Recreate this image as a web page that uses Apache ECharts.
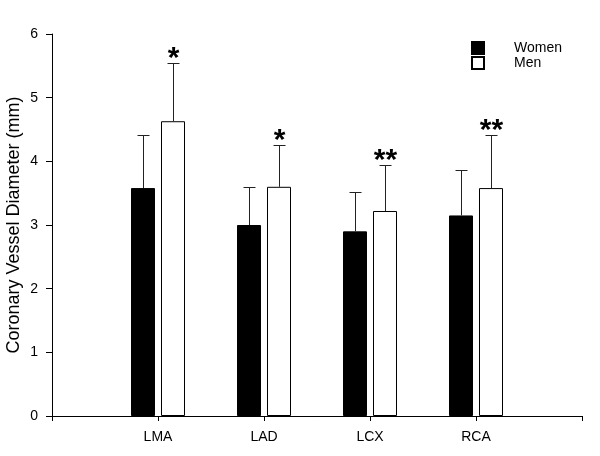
<!DOCTYPE html>
<html>
<head>
<meta charset="utf-8">
<script src="https://cdn.jsdelivr.net/npm/echarts@6/dist/echarts.min.js"></script>
<style>html,body{margin:0;padding:0;background:#fff}#c{width:600px;height:456px}</style>
</head>
<body>
<div id="c"></div>
<script>
const categories = ['LMA', 'LAD', 'LCX', 'RCA'];
const womenMean = [3.58, 3.00, 2.90, 3.15];
const womenSD = [0.83, 0.60, 0.62, 0.71];
const menMean = [4.63, 3.60, 3.22, 3.58];
const menSD = [0.92, 0.66, 0.72, 0.83];
const menMarks = ['*', '*', '**', '**'];
const yTicks = [0, 1, 2, 3, 4, 5, 6];

const FONT = '"Liberation Sans", Arial, sans-serif';
const axisCats = [''].concat(categories, ['']);
const pad = arr => ['-'].concat(arr, ['-']);

function errData(mean, sd, marks) {
  return mean.map((m, i) => [i + 1, m, m + sd[i], marks ? marks[i] : '']);
}

function makeRender(offset) {
  return function (params, api) {
    const x = api.value(0);
    const top = api.coord([x, api.value(1)]);
    const up = api.coord([x, api.value(2)]);
    const cx = Math.round(top[0] + offset) + 0.5;
    const uy = Math.round(up[1]) + 0.5;
    const cap = 6;
    const children = [
      { type: 'line', shape: { x1: cx, y1: top[1], x2: cx, y2: uy }, style: { stroke: '#222', lineWidth: 1 } },
      { type: 'line', shape: { x1: cx - cap, y1: uy, x2: cx + cap, y2: uy }, style: { stroke: '#222', lineWidth: 1 } }
    ];
    const mark = api.value(3);
    if (mark) {
      children.push({
        type: 'text',
        style: { text: mark, x: cx, y: up[1] + 11, align: 'center', verticalAlign: 'bottom', font: 'bold 30px ' + FONT, fill: '#000' }
      });
    }
    return { type: 'group', children: children };
  };
}

const chart = echarts.init(document.getElementById('c'), null, { renderer: 'canvas' });
chart.setOption({
  animation: false,
  backgroundColor: '#fff',
  grid: { left: 52, right: 18, top: 34, bottom: 40, containLabel: false, outerBoundsMode: 'none' },
  legend: {
    orient: 'vertical', left: 466, top: 36, icon: 'rect',
    itemWidth: 12, itemHeight: 12, itemGap: 1,
    textStyle: { fontFamily: FONT, fontSize: 14, lineHeight: 14, color: '#000', padding: [0, 0, 0, 25] },
    data: ['Women', 'Men']
  },
  xAxis: {
    type: 'category', data: axisCats, boundaryGap: false,
    axisLine: { lineStyle: { color: '#000', width: 1 } },
    axisTick: { show: true, length: 5, lineStyle: { color: '#000' } },
    axisLabel: { fontFamily: FONT, fontSize: 14, color: '#000', margin: 14, interval: 0 },
    splitLine: { show: false }
  },
  yAxis: {
    type: 'value', min: 0, max: 6, interval: 1,
    name: 'Coronary Vessel Diameter (mm)', nameLocation: 'middle', nameGap: 29, nameMoveOverlap: false,
    nameTextStyle: { fontFamily: FONT, fontSize: 18, color: '#000' },
    axisLine: { show: true, lineStyle: { color: '#000', width: 1 } },
    axisTick: { show: true, length: 6, lineStyle: { color: '#000' } },
    axisLabel: { fontFamily: FONT, fontSize: 14, color: '#000', margin: 14,
      formatter: v => yTicks.indexOf(v) >= 0 ? String(v) : '' },
    splitLine: { show: false }
  },
  series: [
    { name: 'Women', type: 'bar', data: pad(womenMean), barWidth: 24, barGap: '25%',
      itemStyle: { color: '#000', borderColor: '#000', borderWidth: 1 } },
    { name: 'Men', type: 'bar', data: pad(menMean), barWidth: 24, barGap: '25%',
      itemStyle: { color: '#fff', borderColor: '#000', borderWidth: 1 } },
    { name: 'womenErr', type: 'custom', renderItem: makeRender(-15), data: errData(womenMean, womenSD), z: 3 },
    { name: 'menErr', type: 'custom', renderItem: makeRender(15), data: errData(menMean, menSD, menMarks), z: 3 }
  ]
});
</script>
</body>
</html>
